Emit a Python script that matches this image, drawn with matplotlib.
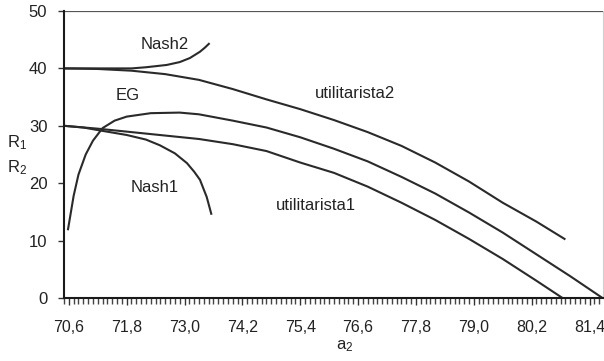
import matplotlib
matplotlib.use("Agg")
import matplotlib.pyplot as plt
from matplotlib.ticker import FixedLocator, MultipleLocator, FuncFormatter

plt.rcParams["font.family"] = ["Liberation Sans", "DejaVu Sans"]
plt.rcParams["mathtext.fontset"] = "custom"
plt.rcParams["mathtext.rm"] = "Liberation Sans"
plt.rcParams["mathtext.it"] = "Liberation Sans"

# curves R(a2)
util2_x = [70.50, 71.20, 71.90, 72.60, 73.30, 74.00, 74.70, 75.40, 76.10,
           76.80, 77.50, 78.20, 78.90, 79.60, 80.30, 80.90]
util2_y = [40.0, 39.9, 39.6, 39.0, 38.0, 36.4, 34.6, 32.9, 31.0,
           28.9, 26.5, 23.6, 20.3, 16.6, 13.3, 10.2]

util1_x = [70.50, 71.20, 71.90, 72.60, 73.30, 74.00, 74.70, 75.40, 76.10,
           76.80, 77.50, 78.20, 78.90, 79.60, 80.30, 80.84]
util1_y = [30.0, 29.5, 28.9, 28.3, 27.7, 26.8, 25.6, 23.6, 21.8,
           19.4, 16.6, 13.6, 10.3, 6.8, 3.0, 0.0]

eg_x = [70.58, 70.70, 70.80, 70.95, 71.10, 71.30, 71.55, 71.80, 72.30, 72.90,
        73.30, 74.00, 74.70, 75.40, 76.10, 76.80, 77.50, 78.20, 78.90, 79.60,
        80.30, 81.00, 81.67]
eg_y = [11.8, 17.8, 21.5, 25.0, 27.4, 29.6, 30.9, 31.6, 32.2, 32.3,
        32.0, 30.9, 29.7, 28.0, 26.0, 23.8, 21.1, 18.2, 14.9, 11.4,
        7.6, 3.8, 0.0]

nash1_x = [70.50, 70.90, 71.24, 71.80, 72.20, 72.49, 72.80, 73.05, 73.20,
           73.32, 73.46, 73.56]
nash1_y = [30.0, 29.7, 29.2, 28.4, 27.6, 26.6, 25.2, 23.5, 22.0,
           20.6, 17.6, 14.5]

nash2_x = [70.50, 71.20, 71.90, 72.20, 72.63, 72.90, 73.11, 73.32, 73.42, 73.52]
nash2_y = [40.0, 40.0, 40.0, 40.2, 40.6, 41.1, 41.8, 42.9, 43.6, 44.4]

x_ticks = [70.6, 71.8, 73.0, 74.2, 75.4, 76.6, 77.8, 79.0, 80.2, 81.4]
y_ticks = [0, 10, 20, 30, 40, 50]

line_color = "#2a2a2a"
text_color = "#222222"

fig = plt.figure(figsize=(6.04, 3.61), dpi=100)
ax = fig.add_axes([64 / 604, 1 - 298 / 361, 539 / 604, 287 / 361])

for xs, ys in [(util2_x, util2_y), (util1_x, util1_y), (eg_x, eg_y),
               (nash1_x, nash1_y), (nash2_x, nash2_y)]:
    ax.plot(xs, ys, color=line_color, lw=1.5, solid_joinstyle="round",
            solid_capstyle="butt", clip_on=False)

ax.set_xlim(70.5, 81.68)
ax.set_ylim(0, 50)

# gridline at the top of the value range
ax.axhline(50, color="#555555", lw=1.6)

for side in ["left", "bottom"]:
    ax.spines[side].set_color("#1a1a1a")
    ax.spines[side].set_linewidth(1.5)
ax.spines["top"].set_visible(False)
ax.spines["right"].set_color("#d0d0d0")
ax.spines["right"].set_linewidth(0.8)

ax.yaxis.set_major_locator(FixedLocator(y_ticks))
ax.xaxis.set_major_locator(FixedLocator(x_ticks))
ax.xaxis.set_minor_locator(MultipleLocator(0.1))
ax.xaxis.set_major_formatter(FuncFormatter(lambda v, p: f"{v:.1f}".replace(".", ",")))

ax.tick_params(axis="y", which="major", direction="out", length=4, width=1,
               color="#333333", labelsize=12, labelcolor=text_color, pad=8)
ax.tick_params(axis="x", which="major", direction="out", length=5, width=1,
               color="#333333", labelsize=11.5, labelcolor=text_color, pad=11)
ax.tick_params(axis="x", which="minor", direction="out", length=4, width=1,
               color="#444444")

ax.text(0.52, -0.168, r"a$_2$", transform=ax.transAxes, ha="center",
        va="center", fontsize=12, color=text_color)
fig.text(17 / 604, 1 - 143 / 361, "R$_1$", ha="center", va="center",
         fontsize=12, color=text_color)
fig.text(17 / 604, 1 - 168 / 361, "R$_2$", ha="center", va="center",
         fontsize=12, color=text_color)

labels = [
    ("Nash2", 72.59, 44.1),
    ("EG", 71.82, 35.2),
    ("utilitarista2", 76.53, 35.7),
    ("Nash1", 72.38, 19.3),
    ("utilitarista1", 75.72, 16.2),
]
for name, lx, ly in labels:
    ax.text(lx, ly, name, ha="center", va="center", fontsize=12, color=text_color)

fig.savefig("out.png", dpi=100)
